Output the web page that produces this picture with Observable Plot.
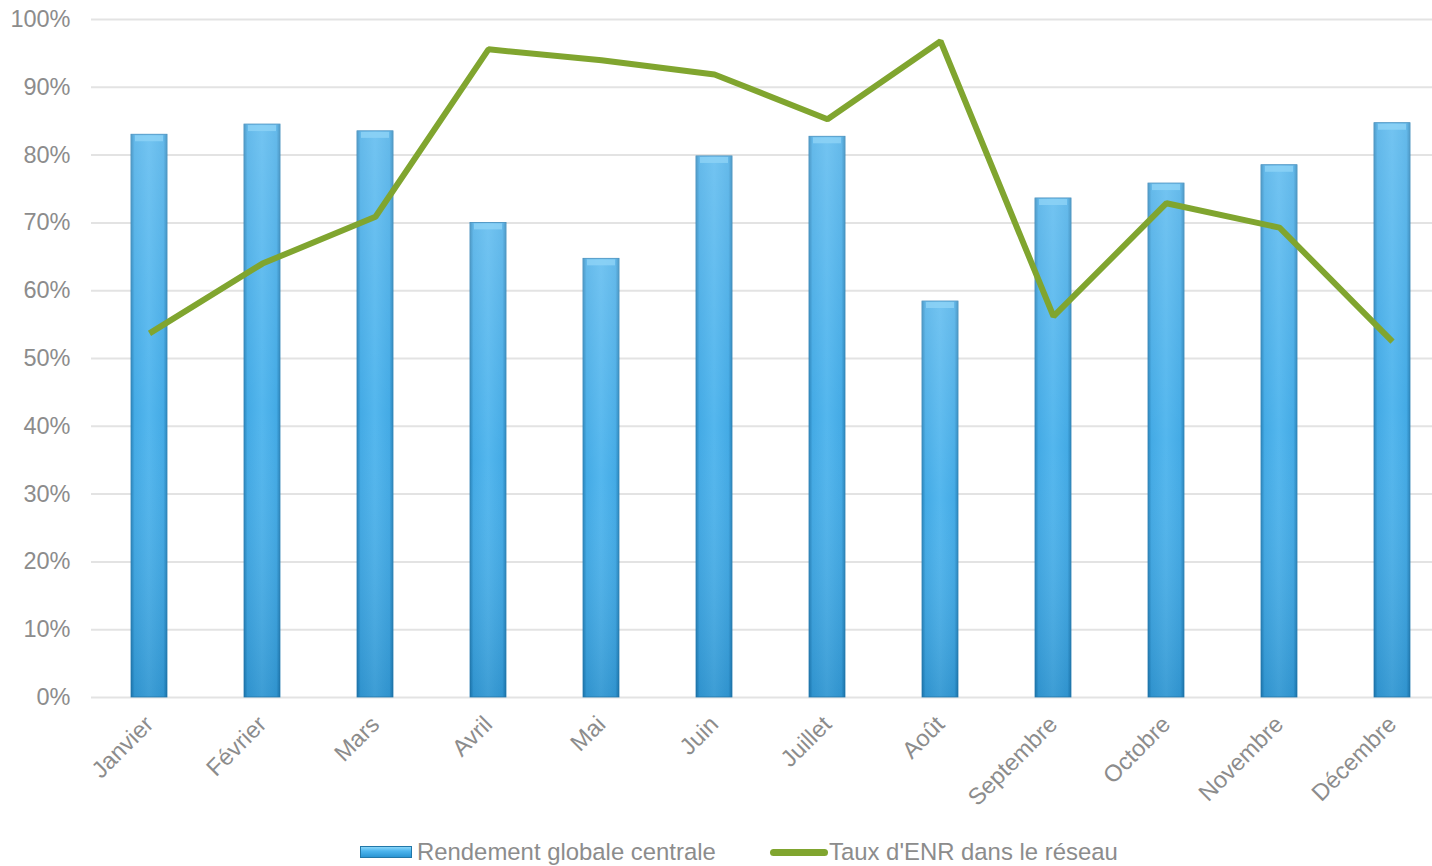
<!DOCTYPE html>
<html>
<head>
<meta charset="utf-8">
<script src="https://cdn.jsdelivr.net/npm/d3@7"></script>
<script src="https://cdn.jsdelivr.net/npm/@observablehq/plot@0.6"></script>
<style>
  html, body { margin: 0; padding: 0; background: #fff; overflow: hidden; }
  body { width: 1432px; height: 866px; position: relative; font-family: "Liberation Sans", Arial, sans-serif; }
  #chart { position: absolute; left: 0; top: 0; }
  .legend { position: absolute; top: 838px; left: 0; width: 1432px; height: 28px; color: #8c8c8c; font-size: 23.9px; line-height: 28px; }
  .item { position: absolute; display: flex; align-items: center; white-space: nowrap; }
  .sw-bar { width: 52px; height: 12px; margin-right: 5px; background: linear-gradient(to bottom, #8ad6f8 0%, #4db5ee 40%, #2a95d3 100%); border: 1px solid #2277a8; box-sizing: border-box; }
  .sw-line { width: 58px; height: 7px; border-radius: 4px; background: #80a52f; margin-right: 1px; }
</style>
</head>
<body>
<div id="chart"></div>
<div class="legend">
  <div class="item" style="left:360px; top:0px;"><span class="sw-bar"></span><span>Rendement globale centrale</span></div>
  <div class="item" style="left:770px; top:0px;"><span class="sw-line"></span><span>Taux d'ENR dans le réseau</span></div>
</div>
<script>
const months = ["Janvier","Février","Mars","Avril","Mai","Juin","Juillet","Août","Septembre","Octobre","Novembre","Décembre"];
const rendement = [83.0, 84.5, 83.5, 70.0, 64.7, 79.8, 82.7, 58.4, 73.6, 75.8, 78.5, 84.7];
const tauxENR = [53.7, 64.0, 70.9, 95.6, 94.0, 91.9, 85.3, 96.8, 56.2, 72.9, 69.3, 52.5];
const yTicks = [0, 10, 20, 30, 40, 50, 60, 70, 80, 90, 100];

const barData = months.map((m, i) => ({month: m, value: rendement[i]}));
const lineData = months.map((m, i) => ({month: m, value: tauxENR[i]}));

const plot = Plot.plot({
  width: 1432,
  height: 830,
  marginLeft: 91,
  marginRight: 0,
  marginTop: 19,
  marginBottom: 133,
  style: {fontFamily: "Liberation Sans, Arial, sans-serif", fontSize: "23.5px", color: "#8c8c8c", background: "transparent", overflow: "visible"},
  x: {domain: months, range: [91.4, 1449.6], paddingInner: 0.68, paddingOuter: 0.34, label: null},
  y: {domain: [0, 100], label: null},
  marks: [
    Plot.ruleY(yTicks, {stroke: "#e3e3e3", strokeWidth: 2}),
    Plot.axisY({ticks: yTicks, tickFormat: d => d + "%", tickSize: 0, tickPadding: 21, fontSize: 23.5, fill: "#8c8c8c", label: null}),
    Plot.axisX({tickSize: 0, tickRotate: -45, tickPadding: 23, fontSize: 23.5, fill: "#8c8c8c", label: null}),
    Plot.barY(barData, {x: "month", y: "value", fill: "url(#barH)", stroke: "#2a7fb5", strokeWidth: 0.8}),
    Plot.barY(barData, {x: "month", y: "value", fill: "url(#barV)"}),
    Plot.tickY(barData, {x: "month", y: "value", stroke: "#8fd3f6", strokeOpacity: 0.8, strokeWidth: 6, dy: 3.5, inset: 4}),
    Plot.line(lineData, {x: "month", y: "value", stroke: "#80a52f", strokeWidth: 6, strokeLinejoin: "miter", strokeLinecap: "butt"})
  ]
});

const defs = d3.select(plot).insert("defs", ":first-child");
const gh = defs.append("linearGradient").attr("id", "barH").attr("x1", 0).attr("x2", 1).attr("y1", 0).attr("y2", 0);
[[0, "#1f7fb9"], [0.1, "#3aa6e4"], [0.5, "#4bb3ed"], [0.9, "#3aa6e4"], [1, "#1f7fb9"]].forEach(([o, c]) => gh.append("stop").attr("offset", o).attr("stop-color", c));
const gv = defs.append("linearGradient").attr("id", "barV").attr("x1", 0).attr("x2", 0).attr("y1", 0).attr("y2", 1);
[[0, "#ffffff", 0.22], [0.5, "#ffffff", 0.05], [1, "#003a66", 0.18]].forEach(([o, c, a]) => gv.append("stop").attr("offset", o).attr("stop-color", c).attr("stop-opacity", a));

document.getElementById("chart").appendChild(plot);
</script>
</body>
</html>
